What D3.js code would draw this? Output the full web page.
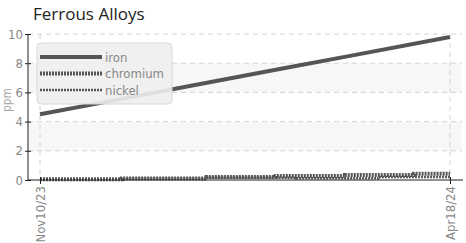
<!DOCTYPE html>
<html>
<head>
<meta charset="utf-8">
<script src="https://cdn.jsdelivr.net/npm/d3@7"></script>
<style>
  body { margin: 0; background: #fff; }
  .narrow { font-family: "Liberation Sans Narrow", "DejaVu Sans Condensed", sans-serif; }
</style>
</head>
<body>
<div id="chart"></div>
<script>
// chart data
var title = "Ferrous Alloys";
var yLabel = "ppm";
var seriesNames = ["iron", "chromium", "nickel"];

var ironDates = ["2023-11-10", "2023-12-10", "2024-01-10", "2024-02-10", "2024-03-10", "2024-04-18"];
var ironValues = [4.5, 5.49, 6.52, 7.55, 8.5, 9.8];

var chromiumDates = ["2023-11-10", "2023-12-12", "2024-01-14", "2024-02-10", "2024-03-08", "2024-04-04", "2024-04-18"];
var chromiumValues = [0.05, 0.1, 0.2, 0.27, 0.34, 0.42, 0.42];

var nickelDates = ["2023-11-10", "2023-12-12", "2024-01-14", "2024-02-18", "2024-03-21", "2024-04-18"];
var nickelValues = [0.05, 0.1, 0.15, 0.12, 0.2, 0.2];

var xTicks = ["2023-11-10", "2024-04-18"];
var yTicks = [0, 2, 4, 6, 8, 10];

var svgWidth = 466;
var svgHeight = 243;
var margin = { top: 34, right: 4, bottom: 63, left: 28 };
var width = svgWidth - margin.left - margin.right;
var height = svgHeight - margin.top - margin.bottom;

var parseDate = d3.timeParse("%Y-%m-%d");
var fmt = d3.timeFormat("%b%d/%y");

function zipSeries(dates, values) {
    return dates.map(function (d, i) {
        return { date: parseDate(d), value: values[i] };
    });
}

var series = [
    { name: seriesNames[0], data: zipSeries(ironDates, ironValues), width: 4, dash: null, curve: d3.curveLinear },
    { name: seriesNames[1], data: zipSeries(chromiumDates, chromiumValues), width: 4, dash: "2,1", curve: d3.curveStepAfter },
    { name: seriesNames[2], data: zipSeries(nickelDates, nickelValues), width: 2.5, dash: "2,1", curve: d3.curveStepAfter }
];

var svg = d3.select("#chart")
    .append("svg")
    .attr("width", svgWidth)
    .attr("height", svgHeight);

var chart = svg.append("g")
    .attr("transform", `translate(${margin.left}, ${margin.top})`);

var xScale = d3.scaleTime()
    .domain([parseDate(xTicks[0]), parseDate(xTicks[1])])
    .range([12, width - 12]);

var yScale = d3.scaleLinear()
    .domain([0, 10])
    .range([height, 0]);

// alternating bands
var bands = [[2, 4], [6, 8]];
chart.selectAll(".band")
    .data(bands)
    .enter().append("rect")
    .attr("x", 0)
    .attr("width", width)
    .attr("y", function (d) { return yScale(d[1]); })
    .attr("height", function (d) { return yScale(d[0]) - yScale(d[1]); })
    .attr("fill", "#f7f7f7");

// grid lines
chart.selectAll(".hgrid")
    .data(yTicks.slice(1))
    .enter().append("line")
    .attr("x1", 0)
    .attr("x2", width)
    .attr("y1", function (d) { return yScale(d); })
    .attr("y2", function (d) { return yScale(d); })
    .attr("stroke", "#d4d4d4")
    .attr("stroke-dasharray", "5,4");

chart.selectAll(".vgrid")
    .data(xTicks)
    .enter().append("line")
    .attr("x1", function (d) { return xScale(parseDate(d)); })
    .attr("x2", function (d) { return xScale(parseDate(d)); })
    .attr("y1", 0)
    .attr("y2", height)
    .attr("stroke", "#d4d4d4")
    .attr("stroke-dasharray", "5,4");

// lines
var line = d3.line()
    .x(function (d) { return xScale(d.date); })
    .y(function (d) { return yScale(d.value); });

chart.selectAll(".series")
    .data(series)
    .enter().append("path")
    .attr("d", function (s) { return line.curve(s.curve)(s.data); })
    .attr("fill", "none")
    .attr("stroke", "#555")
    .attr("stroke-width", function (s) { return s.width; })
    .attr("stroke-dasharray", function (s) { return s.dash; });

// axes
var leftAxis = d3.axisLeft(yScale).tickValues(yTicks).tickSize(3).tickSizeOuter(0);
var bottomAxis = d3.axisBottom(xScale)
    .tickValues(xTicks.map(parseDate))
    .tickFormat(fmt)
    .tickSize(4)
    .tickSizeOuter(0);

var yAxisG = chart.append("g").call(leftAxis);
yAxisG.select(".domain").attr("stroke", "#222").attr("d", `M0,0V${height}`);
yAxisG.selectAll(".tick line").attr("stroke", "#222").attr("x1", 3);
yAxisG.selectAll(".tick text")
    .attr("class", "narrow")
    .attr("x", -5)
    .attr("fill", "#888")
    .style("font-size", "13px");

var xAxisG = chart.append("g")
    .attr("transform", `translate(0, ${height})`)
    .call(bottomAxis);
xAxisG.select(".domain").attr("stroke", "#222").attr("d", `M0,0H${width + 1}`);
xAxisG.selectAll(".tick line").attr("stroke", "#222").attr("y1", -3);
xAxisG.selectAll(".tick text")
    .attr("class", "narrow")
    .attr("fill", "#888")
    .style("font-size", "13px")
    .style("text-anchor", "end")
    .attr("transform", "rotate(-90)")
    .attr("x", -6)
    .attr("y", 0)
    .attr("dy", "0.35em");

// legend
var legend = chart.append("g")
    .attr("transform", "translate(9, 9)");

legend.append("rect")
    .attr("width", 135)
    .attr("height", 61)
    .attr("rx", 4)
    .attr("fill", "#eeeeee")
    .attr("fill-opacity", 0.9)
    .attr("stroke", "#d8d8d8");

var legendItems = legend.selectAll(".item")
    .data(series)
    .enter().append("g")
    .attr("transform", function (d, i) { return `translate(0, ${14 + i * 16.5})`; });

legendItems.append("line")
    .attr("x1", 3)
    .attr("x2", 65)
    .attr("stroke", "#555")
    .attr("stroke-width", function (s) { return s.width; })
    .attr("stroke-dasharray", function (s) { return s.dash; });

legendItems.append("text")
    .attr("class", "narrow")
    .attr("x", 68)
    .attr("dy", "0.35em")
    .attr("fill", "#888")
    .style("font-size", "13px")
    .text(function (s) { return s.name; });

// title
svg.append("text")
    .attr("x", 33)
    .attr("y", 20)
    .attr("fill", "#222")
    .style("font-family", "'Open Sans', sans-serif")
    .style("font-size", "17px")
    .text(title);

// y-axis label
svg.append("text")
    .attr("class", "narrow")
    .attr("transform", "translate(11, 100) rotate(-90)")
    .attr("fill", "#aaa")
    .style("font-size", "12px")
    .style("text-anchor", "middle")
    .text(yLabel);
</script>
</body>
</html>
